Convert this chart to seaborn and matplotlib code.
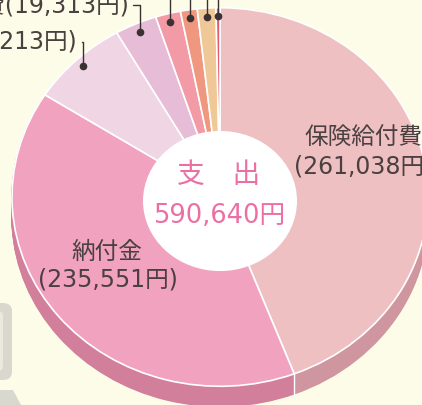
import numpy as np
import matplotlib
matplotlib.use("Agg")
import matplotlib.pyplot as plt
import matplotlib.colors as mcolors
from matplotlib.patches import Circle, FancyBboxPatch, Polygon
import seaborn as sns

# ---- data ----
categories = ["保険給付費", "納付金", "共同事業拠出金", "総務費", "保健事業費", "諸支出金", "予備費", "その他"]
values = [261038, 235551, 45213, 19313, 11500, 7700, 8500, 1825]
value_labels = ["(261,038円", "(235,551円)", "共同事業拠出金(45,213円)", "総務費(19,313円)"]
center_title = "支　出"
center_total = "590,640円"
top_colors = ["#EFC0C2", "#F1A2BF", "#F0D5E5", "#E6BCD6", "#F29BA6", "#F0987F", "#F0C797", "#E65A6E"]

# ---- layout constants ----
W, H = 422, 405
S = 0.91           # vertical squash of the tilted pie
CX, CY = 220, 197  # pie centre (pixels)
R = 208            # pie radius (pixels, horizontal)
DEPTH = 20         # rim thickness (pixels)
BG = "#FDFCE8"
TXT = "#4A4040"
PINK = "#EC6FA3"
FAM = ['DejaVu Sans', 'Noto Sans CJK JP']

sns.set_theme(style="white")
plt.rcParams['font.family'] = FAM

fig = plt.figure(figsize=(W / 100, H / 100), dpi=100)
fig.patch.set_facecolor(BG)
ax = fig.add_axes([0, 0, 1, 1])
ax.set_facecolor(BG)


def P(x, y):
    return (x, (H - y) / S)


def darken(c, f=0.87):
    r, g, b = mcolors.to_rgb(c)
    return (r * f, g * f * 0.9, b * f * 0.94)


rim_colors = [darken(c) for c in top_colors]

# rim (side of the 3D pie)
for k in range(DEPTH, 0, -1):
    rw, _ = ax.pie(values, colors=rim_colors, startangle=90, counterclock=False,
                   radius=R, center=P(CX, CY + k), frame=True)
    for w in rw:
        w.set_edgecolor(w.get_facecolor())
        w.set_linewidth(1.0)
# top surface
wedges, _ = ax.pie(values, colors=top_colors, startangle=90, counterclock=False,
                   radius=R, center=P(CX, CY), frame=True,
                   wedgeprops=dict(edgecolor="white", linewidth=1.2))
for w in wedges:
    w.set_zorder(2)

total = float(np.sum(values))
cum = np.cumsum(values) / total * 360.0
starts = np.concatenate([[0.0], cum[:-1]])
mids = (starts + cum) / 2.0

# white seams on the rim for front boundaries
for th in cum:
    t = np.radians(th)
    if np.cos(t) < 0:
        x = CX + R * np.sin(t)
        y = CY - R * S * np.cos(t)
        x0, y0 = P(x, y)
        x1, y1 = P(x, y + DEPTH)
        ax.plot([x0, x1], [y0, y1], color="white", lw=1.0, zorder=2.5)

ax.set_aspect("auto")
ax.set_xlim(0, W)
ax.set_ylim(0, H / S)
ax.axis("off")

# decorative gray frame pieces at lower-left
ax.add_patch(FancyBboxPatch(P(-70, 380), 82, 77 / S, boxstyle="round,pad=0,rounding_size=9",
                            facecolor="#D8D8CF", edgecolor="none", zorder=0.5))
ax.add_patch(FancyBboxPatch(P(-70, 371), 73, 60 / S, boxstyle="round,pad=0,rounding_size=5",
                            facecolor="#E9E9DE", edgecolor="none", zorder=0.6))
ax.add_patch(Polygon([P(0, 390), P(13, 390), P(21, 405), P(0, 405)],
                     closed=True, facecolor="#D8D8CF", edgecolor="none", zorder=0.5))

# centre white disc
ax.add_patch(Circle(P(220, 201), 77, facecolor="white", edgecolor="none", zorder=3))
ax.text(*P(219, 175), center_title, color=PINK, fontsize=20, ha="center", va="center", zorder=4)
ax.text(*P(219, 216), center_total, color=PINK, fontsize=18.5, ha="center", va="center", zorder=4)

# inside labels
ax.text(*P(304, 138), categories[0], color=TXT, fontsize=17, ha="left", va="center", zorder=4)
ax.text(*P(294, 167), value_labels[0], color=TXT, fontsize=17, ha="left", va="center", zorder=4)
ax.text(*P(107, 252), categories[1], color=TXT, fontsize=17, ha="center", va="center", zorder=4)
ax.text(*P(108, 279), value_labels[1], color=TXT, fontsize=17, ha="center", va="center", zorder=4)


def dot_pos(i, rr=0.955):
    t = np.radians(mids[i])
    return CX + R * rr * np.sin(t), CY - R * rr * S * np.cos(t)


LC = "#3A3232"
# outside labels with elbow leaders
for i, (ty, tx_end) in zip([2, 3], [(42, 78), (5, 129)]):
    dx, dy = dot_pos(i)
    ax.text(*P(tx_end, ty), value_labels[i], color=TXT, fontsize=17, ha="right", va="center", zorder=4)
    xs, ys = zip(P(tx_end + 4, ty), P(dx, ty), P(dx, dy))
    ax.plot(xs, ys, color=LC, lw=1.0, zorder=4)
    ax.plot(*P(dx, dy), "o", color=LC, ms=4.5, zorder=5)

# small slices: vertical leaders running off the top
for i in range(4, len(values)):
    dx, dy = dot_pos(i)
    xs, ys = zip(P(dx, -5), P(dx, dy))
    ax.plot(xs, ys, color=LC, lw=1.0, zorder=4)
    ax.plot(*P(dx, dy), "o", color=LC, ms=4.5, zorder=5)

fig.savefig("out.png", dpi=100, facecolor=BG)
